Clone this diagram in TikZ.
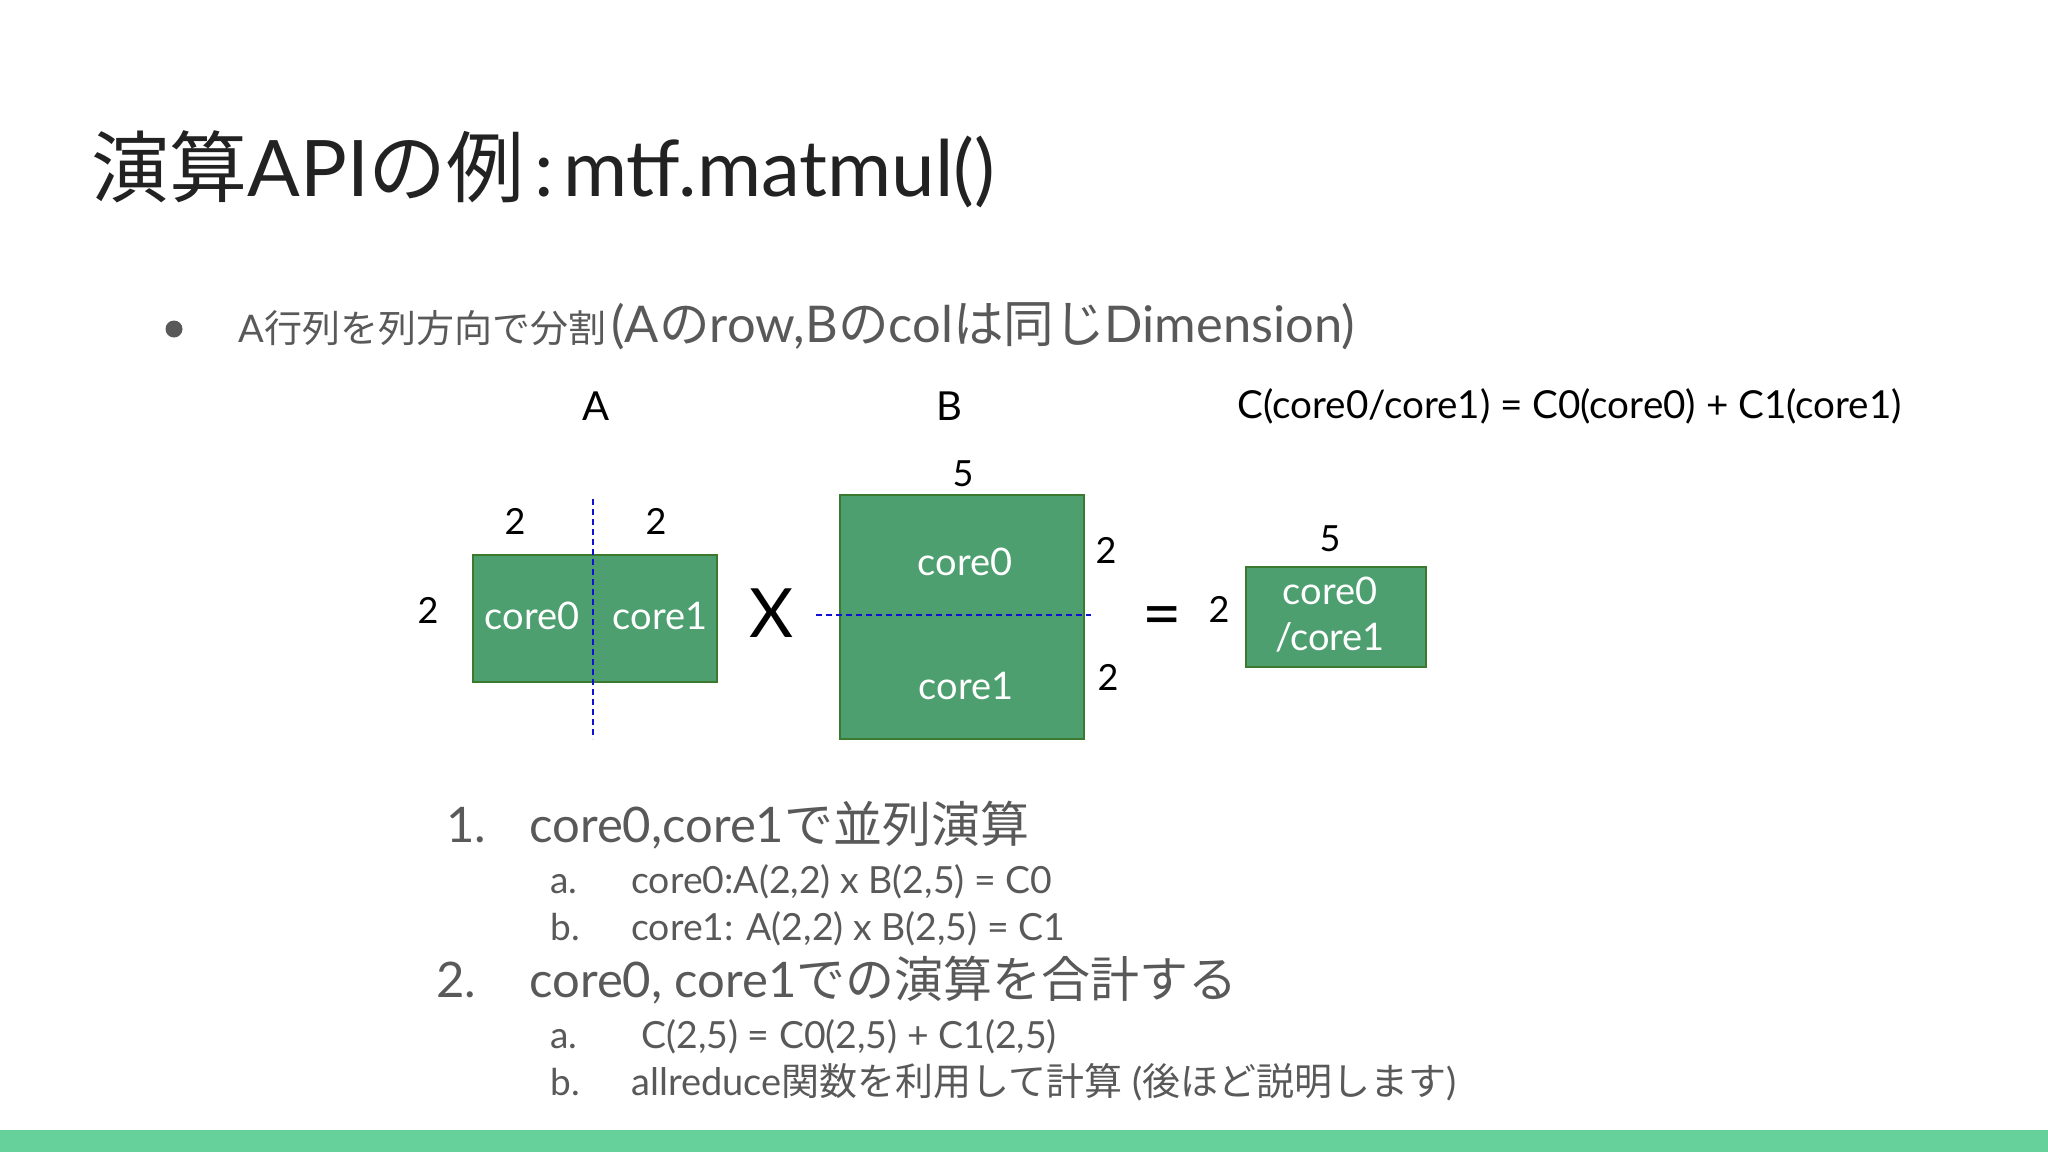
\documentclass[tikz,border=0pt]{standalone}
\usepackage{fontspec}
\setmainfont{Lato}
\newfontfamily\jp{Noto Sans CJK JP}
\usepackage{xcolor}
\usetikzlibrary{positioning, calc}

\begin{document}
\begin{tikzpicture}[x=0.5pt, y=-0.5pt]

\definecolor{blockfill}{HTML}{4E9F70}
\definecolor{blockedge}{HTML}{3B7A2E}
\definecolor{splitblue}{HTML}{1010D0}
\definecolor{bodygray}{HTML}{595959}
\definecolor{titleink}{HTML}{222222}
\definecolor{footbar}{HTML}{66D19B}

\tikzset{
  matblock/.style={rectangle, fill=blockfill, draw=blockedge, line width=0.8pt, inner sep=0pt},
  celltext/.style={text=white, font=\fontsize{19}{23}\selectfont, align=center, inner sep=0pt},
  dimlabel/.style={font=\fontsize{18}{20}\selectfont, inner sep=0pt},
  opsign/.style={font=\fontsize{34}{36}\selectfont, inner sep=0pt},
  splitline/.style={splitblue, line width=0.8pt, dash pattern=on 3pt off 2pt},
  itemnum/.style={text=bodygray, anchor=base west, inner sep=0pt},
  itemtext/.style={text=bodygray, anchor=base west, inner sep=0pt}
}

\useasboundingbox (0,0) rectangle (2048,1152);
\fill[footbar] (0,1130) rectangle (2048,1152);

%title
\node[anchor=base west, inner sep=0pt, text=titleink, font=\fontsize{39}{44}\selectfont] (title) at (91,196)
  {{\jp 演算}API{\jp の例}\hspace{0.12em}:\hspace{0.12em}mtf.matmul()};

%bullet
\node[circle, fill=bodygray, minimum size=8.5pt, inner sep=0pt] (dot) at (174,329) {};
\node[anchor=base west, inner sep=0pt, text=bodygray] (intro) at (238,342)
  {{\fontsize{19}{22}\selectfont A{\jp 行列を列方向で分割}} {\fontsize{25.3}{27}\selectfont (A{\jp の}row,B{\jp の}col{\jp は同じ}Dimension)}};

%headings
\node[dimlabel, font=\fontsize{20}{22}\selectfont] (headA) at (596,406) {A};
\node[dimlabel, font=\fontsize{20}{22}\selectfont] (headB) at (949,406) {B};
\node[dimlabel, font=\fontsize{19.3}{22}\selectfont, anchor=west] (headC) at (1237,406)
  {C(core0/core1) = C0(core0) + C1(core1)};

%matrix A
\node[matblock, minimum width=122pt, minimum height=63.5pt] (matA) at (595,618.5) {};
\node[celltext] (a0) at (532,616) {core0};
\node[celltext] (a1) at (660,616) {core1};
\node[dimlabel] (adl) at (515,521) {2};
\node[dimlabel] (adr) at (656,521) {2};
\node[dimlabel] (adh) at (428,610) {2};
\coordinate (vtop) at (593,499);
\coordinate (vbot) at (593,739);
\draw[splitline] (vtop) -- (vbot);

\node[opsign] (times) at (772,613) {X};

%matrix B
\node[matblock, minimum width=122pt, minimum height=122pt] (matB) at (962,617) {};
\node[celltext] (b0) at (965,562) {core0};
\node[celltext] (b1) at (966,686) {core1};
\node[dimlabel] (bdw) at (963,474) {5};
\node[dimlabel] (bdt) at (1106,550) {2};
\node[dimlabel] (bdb) at (1108,677) {2};
\coordinate (hleft) at (816,615);
\coordinate (hright) at (1091,615);
\draw[splitline] (hleft) -- (hright);

\node[opsign] (equals) at (1162,622) {=};

%matrix C
\node[matblock, minimum width=90pt, minimum height=50pt] (matC) at (1336,617) {};
\node[celltext] (c01) at (1330,615) {core0\\/core1};
\node[dimlabel] (cdw) at (1330,539) {5};
\node[dimlabel] (cdh) at (1219,609) {2};

%steps
\node[itemnum, font=\fontsize{24.5}{26}\selectfont] (n1) at (446,842) {1.};
\node[itemtext, font=\fontsize{24.5}{26}\selectfont] (s1) at (529,842) {core0,core1{\jp で並列演算}};
\node[itemnum, font=\fontsize{18.5}{20}\selectfont] (n1a) at (550,893) {a.};
\node[itemtext, font=\fontsize{18.7}{20}\selectfont] (s1a) at (631,893) {core0:A(2,2) x B(2,5) = C0};
\node[itemnum, font=\fontsize{18.5}{20}\selectfont] (n1b) at (550,940) {b.};
\node[itemtext, font=\fontsize{18.7}{20}\selectfont] (s1b) at (631,940) {core1: A(2,2) x B(2,5) = C1};
\node[itemnum, font=\fontsize{24.5}{26}\selectfont] (n2) at (436,997) {2.};
\node[itemtext, font=\fontsize{24.5}{26}\selectfont] (s2) at (529,997) {core0, core1{\jp での演算を合計する}};
\node[itemnum, font=\fontsize{18.5}{20}\selectfont] (n2a) at (550,1048) {a.};
\node[itemtext, font=\fontsize{18.7}{20}\selectfont] (s2a) at (641,1048) {C(2,5) = C0(2,5) + C1(2,5)};
\node[itemnum, font=\fontsize{18.5}{20}\selectfont] (n2b) at (550,1095) {b.};
\node[itemtext, font=\fontsize{19}{20}\selectfont] (s2b) at (631,1095) {allreduce{\jp 関数を利用して計算} ({\jp 後ほど説明します})};

\end{tikzpicture}
\end{document}
